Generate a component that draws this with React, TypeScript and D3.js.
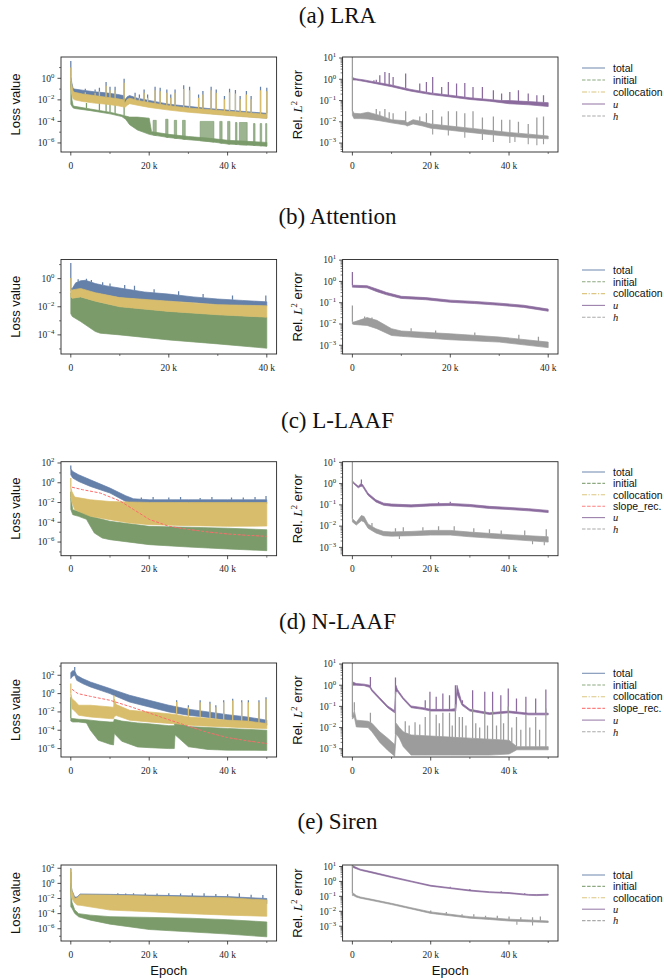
import React from "react";
import * as d3 from "d3";

// Band readings: [epoch (thousands), log10 lower edge, log10 upper edge]
// Spike readings: [epoch (thousands), log10 tip]
// Cluster readings: [epoch start (k), epoch end (k), log10 top]
type B = [number, number, number];
type S = [number, number];
type Cl = [number, number, number];

// ---------- (a) LRA ----------
const lraLossTotal: B[] = [[0, -0.8, 0.2], [0.25, -1.1, -0.4], [0.6, -1.5, -0.95], [1, -1.6, -1.0], [3, -1.75, -1.1], [6, -1.85, -1.25], [9, -1.95, -1.35], [12, -2.1, -1.5], [13.4, -2.2, -1.6], [13.8, -2.5, -2.0], [14.4, -2.3, -1.7], [15, -2.1, -1.6], [17, -2.3, -1.85], [20, -2.55, -2.05], [25, -2.8, -2.4], [30, -3.05, -2.6], [35, -3.25, -2.8], [40, -3.4, -2.95], [45, -3.55, -3.1], [50, -3.7, -3.25]];
const lraLossTotalSpikes: S[] = [[0, 1.6], [3.7, -0.97], [6.2, -1.03], [7.3, -0.87], [9.0, -0.34], [10.0, -0.78], [11.3, -0.78], [13.6, -0.03], [15.6, -1.65], [16.4, -1.34], [17.5, -1.5], [18.7, -1.03], [19.6, -1.5], [21.5, -0.78], [22.8, -0.87], [24.5, -1.03], [25.5, -1.5], [26.6, -1.03], [28.8, -0.65], [30.3, -0.78], [32.6, -1.5], [33.7, -1.18], [35.8, -0.78], [37.1, -1.03], [39.2, -1.65], [40.5, -0.97], [42.0, -1.09], [43.2, -1.65], [44.8, -1.18], [46.0, -1.65], [48.4, -0.78], [50.0, -0.87]];
const lraLossColl: B[] = [[0, -1.0, 0.0], [0.25, -1.5, -0.6], [0.6, -1.9, -1.2], [1, -2.0, -1.3], [3, -2.15, -1.45], [6, -2.3, -1.6], [9, -2.4, -1.75], [12, -2.55, -1.9], [13.4, -2.65, -2.0], [13.8, -2.7, -2.3], [14.4, -2.5, -1.95], [15, -2.35, -1.85], [17, -2.5, -2.05], [20, -2.7, -2.25], [25, -2.95, -2.55], [30, -3.15, -2.75], [35, -3.3, -2.9], [40, -3.45, -3.05], [45, -3.6, -3.2], [50, -3.72, -3.35]];
const lraLossCollSpikes: S[] = [[0, 1.0], [3.7, -1.3], [6.2, -1.35], [7.3, -1.2], [9.0, -0.7], [10.0, -1.1], [11.3, -1.1], [13.6, -0.4], [15.6, -1.9], [16.4, -1.65], [17.5, -1.8], [18.7, -1.35], [19.6, -1.8], [21.5, -1.1], [22.8, -1.2], [24.5, -1.35], [25.5, -1.8], [26.6, -1.35], [28.8, -1.0], [30.3, -1.1], [32.6, -1.8], [33.7, -1.5], [35.8, -1.1], [37.1, -1.35], [39.2, -1.95], [40.5, -1.3], [42.0, -1.4], [43.2, -1.95], [44.8, -1.5], [46.0, -1.95], [48.4, -1.1], [50.0, -1.2]];
const lraLossInit: B[] = [[0, -2.4, -0.25], [0.3, -2.6, -2.0], [0.6, -2.75, -2.55], [1, -2.8, -2.6], [5, -3.0, -2.85], [10, -3.3, -3.15], [13, -3.55, -3.4], [14, -3.8, -3.5], [15, -4.3, -3.6], [17, -4.8, -3.6], [20, -5.2, -3.7], [20.6, -5.25, -4.95], [25, -5.5, -5.2], [30, -5.7, -5.4], [35, -5.85, -5.55], [40, -6.1, -5.75], [45, -6.2, -5.85], [50, -6.3, -5.95]];
const lraLossInitSpikes: S[] = [[4, -2.3], [7.3, -2.2], [9, -1.9], [10, -2.3], [11.3, -2.3], [13.6, -1.8]];
const lraLossInitClusters: Cl[] = [[21, 21.8, -3.9], [24.2, 24.8, -3.8], [26.4, 27.0, -3.9], [28.5, 29.2, -3.9], [33, 36.5, -4.0], [38, 38.6, -4.0], [40, 40.6, -4.0], [42, 42.4, -4.1], [43, 45, -4.1], [46.6, 47, -4.2], [48.3, 48.7, -4.2], [49.7, 50, -4.2]];
const lraErrU: B[] = [[0, 0.0, 0.12], [0.2, -0.03, 0.06], [1, -0.04, 0.02], [3, -0.1, -0.03], [5, -0.17, -0.1], [8, -0.28, -0.2], [10, -0.35, -0.27], [13.5, -0.5, -0.42], [15, -0.56, -0.48], [20, -0.72, -0.64], [25, -0.83, -0.75], [30, -0.95, -0.87], [35, -1.03, -0.95], [38, -1.1, -1.0], [40, -1.15, -1.0], [45, -1.2, -1.05], [50, -1.28, -1.1]];
const lraErrUSpikes: S[] = [[4.5, -0.1], [5.5, -0.05], [6.1, -0.02], [7.0, 0.19], [8.3, 0.34], [9.4, 0.3], [10.4, 0.11], [13.6, 0.27], [17.2, -0.2], [18.9, -0.13], [20.5, 0.11], [22.8, -0.36], [24.5, -0.13], [26.6, -0.2], [28.7, -0.18], [30.8, -0.36], [33.2, -0.36], [36.0, -0.52], [38.1, -0.67], [40.2, -0.6], [42.4, -0.52], [44.9, -0.67], [47.1, -0.75], [48.8, -0.75]];
const lraErrH: B[] = [[0, -1.7, -1.5], [0.15, -1.75, -1.5], [0.4, -1.85, -1.6], [2, -1.85, -1.62], [4, -1.87, -1.55], [7, -1.95, -1.7], [10, -2.05, -1.9], [13.5, -2.15, -1.95], [14, -2.2, -2.05], [15.5, -2.1, -1.9], [18, -2.2, -2.0], [20, -2.3, -2.1], [25, -2.4, -2.2], [30, -2.5, -2.3], [35, -2.6, -2.4], [40, -2.68, -2.5], [45, -2.75, -2.58], [50, -2.8, -2.67]];
const lraErrHSpikes: S[] = [[0, 1.05], [6.1, -1.4], [7.0, -1.5], [8.3, -1.4], [9.4, -1.55], [10.4, -1.6], [13.6, -1.5], [17.2, -1.75], [18.9, -1.6], [20.5, -1.45], [22.8, -1.75], [24.5, -1.5], [26.6, -1.5], [28.7, -1.6], [30.8, -1.5], [33.2, -1.8], [36.0, -1.75], [38.1, -1.9], [40.2, -1.9], [42.4, -2.0], [44.9, -2.1], [47.1, -1.8], [48.8, -1.75]];
const lraErrHDown: S[] = [[20.5, -2.6], [24.5, -2.65], [28.7, -2.75], [33.2, -2.85], [36, -2.95], [40.2, -3.0], [41.5, -2.95], [44.9, -3.05], [47.1, -3.1], [48.8, -3.05]];

// ---------- (b) Attention ----------
const attLossTotal: B[] = [[0, -0.9, -0.7], [0.3, -0.9, -0.7], [1, -0.85, -0.3], [2, -0.85, -0.15], [3, -0.9, -0.12], [5, -1.0, -0.35], [7, -1.15, -0.5], [10, -1.35, -0.67], [15, -1.5, -0.95], [20, -1.6, -1.1], [25, -1.7, -1.3], [30, -1.85, -1.45], [35, -1.9, -1.55], [40, -1.95, -1.65]];
const attLossTotalSpikes: S[] = [[0, 1.12], [1.5, -0.05], [3.2, 0.0], [4.2, -0.1], [6.5, -0.25], [8, -0.35], [11, -0.45], [13, -0.5], [17, -0.75], [22, -0.9], [27, -1.1], [33, -1.2], [39.8, -1.2]];
const attLossColl: B[] = [[0, -1.3, -0.8], [0.3, -1.4, -0.8], [2, -1.3, -0.7], [5, -1.6, -1.0], [10, -2.0, -1.35], [20, -2.33, -1.6], [30, -2.57, -1.85], [40, -2.74, -1.93]];
const attLossCollSpikes: S[] = [[0, 0.05]];
const attLossInit: B[] = [[0, -2.5, -1.0], [0.3, -2.69, -1.4], [2, -3.05, -1.3], [5, -3.76, -1.6], [6, -3.88, -1.7], [10, -4.0, -2.0], [20, -4.36, -2.33], [30, -4.64, -2.57], [40, -4.95, -2.74]];
const attErrU: B[] = [[0, -0.27, -0.18], [0.15, -0.27, -0.18], [3, -0.3, -0.2], [5, -0.48, -0.36], [7, -0.63, -0.52], [10, -0.8, -0.7], [15, -0.86, -0.76], [20, -0.98, -0.88], [25, -1.04, -0.94], [30, -1.12, -1.02], [35, -1.22, -1.12], [40, -1.4, -1.3]];
const attErrUSpikes: S[] = [[0, 0.44]];
const attErrH: B[] = [[0, -2.0, -1.9], [0.3, -2.02, -1.91], [3, -2.07, -1.7], [5, -2.22, -1.83], [8, -2.54, -2.22], [10, -2.58, -2.33], [20, -2.74, -2.46], [30, -2.85, -2.61], [40, -3.11, -2.85]];
const attErrHSpikes: S[] = [[0, -1.13], [2.5, -1.65], [4, -1.7], [12, -2.2], [17, -2.3], [25, -2.4], [34, -2.5], [38, -2.6]];

// ---------- (c) L-LAAF ----------
const llaafLossTotal: B[] = [[0, 0.8, 1.4], [0.5, 0.47, 1.14], [2, 0.13, 0.81], [5, -0.37, 0.3], [10, -1.04, -0.54], [14, -1.89, -1.31], [16, -2.05, -1.62], [20, -2.1, -1.72], [30, -2.1, -1.72], [40, -2.1, -1.72], [50, -2.1, -1.72]];
const llaafLossTotalSpikes: S[] = [[0, 1.75], [18, -1.5], [21, -1.45], [25, -1.5], [28, -1.45], [33, -1.55], [36, -1.45], [41, -1.5], [44, -1.5], [47, -1.45], [49.8, -1.35]];
const llaafLossColl: B[] = [[0, -1.5, -0.5], [0.3, -2.0, -0.9], [1, -2.73, -1.45], [5, -3.4, -1.72], [10, -3.74, -1.9], [15, -4.07, -1.95], [20, -4.24, -1.99], [30, -4.34, -2.0], [40, -4.41, -2.0], [50, -4.38, -2.0]];
const llaafLossCollSpikes: S[] = [[0, 0.47]];
const llaafLossSlope: S[] = [[0.3, -0.45], [3, -0.7], [7.5, -1.04], [12.6, -1.85], [16, -2.7], [20, -3.7], [25, -4.4], [30, -4.72], [35, -4.98], [40, -5.18], [45, -5.32], [50, -5.42]];
const llaafLossInit: B[] = [[0, -2.7, -1.5], [0.5, -3.23, -2.73], [2, -3.4, -2.9], [4, -3.7, -3.1], [5, -4.4, -3.4], [6, -5.08, -3.5], [8, -5.59, -3.7], [10, -5.76, -3.9], [20, -6.26, -4.41], [30, -6.5, -4.5], [40, -6.7, -4.6], [50, -6.87, -4.75]];
const llaafLossInitSpikes: S[] = [[0, -0.9]];
const llaafErrU: B[] = [[0, 0.05, 0.14], [0.3, 0.0, 0.06], [1.5, -0.2, -0.12], [2.2, -0.12, 0.0], [2.6, -0.14, -0.04], [4, -0.55, -0.45], [6, -0.86, -0.76], [8, -1.02, -0.92], [10, -1.06, -0.96], [15, -1.1, -1.0], [20, -1.05, -0.95], [25, -1.03, -0.93], [30, -1.08, -0.98], [35, -1.17, -1.07], [40, -1.22, -1.12], [45, -1.28, -1.18], [50, -1.36, -1.26]];
const llaafErrUSpikes: S[] = [[2.3, 0.19], [22, -0.88], [25, -0.85]];
const llaafErrH: B[] = [[0, -1.8, -1.65], [1, -1.95, -1.82], [2.3, -1.75, -1.5], [3, -1.8, -1.55], [4, -2.1, -1.9], [6, -2.32, -2.12], [8, -2.45, -2.25], [10, -2.47, -2.27], [15, -2.45, -2.25], [20, -2.42, -2.2], [25, -2.42, -2.2], [30, -2.5, -2.28], [40, -2.62, -2.4], [50, -2.75, -2.5]];
const llaafErrHSpikes: S[] = [[0, 1.03], [5, -1.85], [11, -2.1], [13, -2.05], [18, -2.05], [22, -2.0], [26, -2.0], [31, -2.1], [35, -2.15], [38, -2.2], [44, -2.2], [49.5, -2.15]];
const llaafErrHDown: S[] = [[12, -2.6], [46, -2.85], [49, -2.9]];

// ---------- (d) N-LAAF ----------
const nlaafLossTotal: B[] = [[0, 1.64, 2.3], [0.5, 1.9, 2.5], [1, 2.0, 2.5], [1.5, 1.45, 2.0], [3, 1.09, 1.64], [5, 0.73, 1.27], [10, 0.0, 0.55], [11, -0.2, 0.4], [15, -0.92, -0.18], [20, -1.46, -0.73], [25, -2.0, -1.27], [30, -2.36, -1.7], [35, -2.6, -2.0], [40, -2.9, -2.3], [45, -3.1, -2.55], [50, -3.45, -2.9]];
const nlaafLossTotalSpikes: S[] = [[1, 2.9], [27, -0.73], [30, -1.27], [33, -0.73], [35.5, -0.9], [37, -1.27], [39, -0.73], [41.3, -0.55], [43.6, -0.73], [45.3, -0.73], [48, -0.73], [49.8, -0.4]];
const nlaafLossColl: B[] = [[0, -0.5, 0.0], [0.3, -1.64, -0.55], [1, -1.9, -0.8], [2, -2.36, -1.27], [5, -2.55, -1.27], [10, -2.73, -1.45], [10.9, -2.75, -1.5], [11.1, -2.5, -0.6], [11.6, -2.4, -1.2], [15, -2.9, -1.82], [20, -3.1, -2.0], [25, -3.25, -2.2], [27, -3.3, -2.3], [30, -3.45, -2.55], [35, -3.55, -2.7], [40, -3.64, -2.9], [45, -3.75, -3.0], [50, -3.82, -3.27]];
const nlaafLossCollSpikes: S[] = [[0, 1.09], [11, -0.18], [27, -0.9], [30, -1.5], [33, -0.95], [35.5, -1.1], [37, -1.5], [39, -0.95], [41.3, -0.75], [43.6, -0.95], [45.3, -0.95], [48, -0.95], [49.8, -0.6]];
const nlaafLossSlope: S[] = [[0.3, 0.47], [1.8, 0.0], [5, -0.3], [10, -0.73], [15, -1.4], [20, -2.11], [25, -2.85], [30, -3.56], [35, -4.25], [40, -4.8], [45, -5.15], [50, -5.45]];
const nlaafLossInit: B[] = [[0, -3.0, -2.7], [0.5, -3.1, -2.73], [2, -3.1, -2.8], [4, -3.2, -2.85], [5, -4.0, -2.9], [7, -5.09, -3.0], [10, -5.53, -3.1], [10.9, -5.6, -3.1], [11.1, -4.36, -2.8], [13, -5.2, -3.0], [17, -5.82, -3.2], [20, -5.9, -3.3], [25, -6.0, -3.5], [26.4, -6.0, -3.5], [26.6, -4.5, -3.0], [30, -5.8, -3.6], [35, -6.1, -3.7], [40, -6.18, -3.8], [50, -6.2, -4.0]];
const nlaafLossInitSpikes: S[] = [[0, -0.4]];
const nlaafErrU: B[] = [[0, 0.0, 0.16], [1, 0.0, 0.08], [3, -0.02, 0.05], [4.4, -0.1, 0.0], [5, -0.28, -0.2], [7, -0.67, -0.59], [9, -1.06, -0.98], [10.8, -1.3, -1.2], [11.1, -0.3, 0.0], [11.5, -0.3, -0.2], [13, -0.67, -0.59], [15, -1.06, -0.98], [18, -1.14, -1.06], [20, -1.22, -1.14], [25, -1.22, -1.14], [26.4, -1.22, -1.1], [26.7, -0.4, 0.0], [28, -0.95, -0.85], [30, -1.22, -1.14], [35, -1.38, -1.3], [40, -1.3, -1.22], [45, -1.4, -1.32], [50, -1.4, -1.32]];
const nlaafErrUSpikes: S[] = [[4.6, 0.39], [11, 0.36], [18.6, -0.71], [19.8, -0.31], [21.4, -0.55], [23.1, -0.39], [24.8, -0.47], [26.3, 0.0], [28.1, -0.71], [30.7, -0.24], [33.8, -0.31], [35.8, -0.31], [37.9, -0.47], [39.8, -0.16], [41.9, -0.63], [44.3, -0.55], [46.8, -0.63], [49.4, -0.2]];
const nlaafErrH: B[] = [[0, -1.6, -1.5], [0.5, -1.5, -1.2], [1, -1.97, -1.65], [4, -2.0, -1.7], [5, -2.2, -1.8], [7, -2.7, -2.2], [9, -3.07, -2.5], [10.8, -3.35, -2.8], [11.2, -2.3, -1.8], [12, -2.5, -2.0], [13, -2.9, -2.2], [15, -3.3, -2.35], [20, -3.3, -2.4], [25, -3.3, -2.45], [30, -3.3, -2.5], [35, -3.3, -2.55], [40, -3.25, -2.6], [42, -3.05, -2.9], [50, -3.05, -2.9]];
const nlaafErrHSpikes: S[] = [[0, 1.05], [0.5, -0.8], [4.6, -1.3], [11, -0.3], [13.5, -1.7], [14.5, -1.9], [16, -1.75], [17.2, -1.85], [18.6, -1.5], [19.8, -1.2], [21.4, -1.4], [22.2, -1.8], [23.1, -1.3], [24.8, -1.3], [25.5, -1.9], [26.3, -0.9], [27.3, -1.5], [28.1, -1.5], [29, -1.9], [30.7, -1.1], [31.5, -1.8], [32.5, -2.0], [33.8, -1.2], [34.5, -1.9], [35.8, -1.2], [36.8, -1.9], [37.9, -1.3], [38.6, -1.8], [39.8, -1.0], [40.7, -2.0], [41.9, -1.5], [43, -2.1], [44.3, -1.4], [45.3, -2.0], [46.8, -1.5], [47.8, -2.1], [49.4, -1.1]];

// ---------- (e) Siren ----------
const sirenLossTotal: B[] = [[0, -1.0, 0.0], [0.3, -1.6, -0.9], [1, -2.1, -1.8], [1.6, -2.3, -1.8], [2.4, -2.2, -1.4], [10, -2.2, -1.45], [20, -2.3, -1.55], [30, -2.4, -1.65], [40, -2.5, -1.75], [50, -2.7, -2.0]];
const sirenLossTotalSpikes: S[] = [[0, 2.0], [12, -1.3], [14, -1.35], [16, -1.3], [19, -1.3], [22, -1.35], [25, -1.3], [28, -1.35], [31, -1.3], [34, -1.3], [37, -1.4], [40, -1.45], [43, -1.3], [46, -1.5], [49, -1.55]];
const sirenLossColl: B[] = [[0, -1.5, 0.0], [0.3, -2.0, -1.0], [1, -2.6, -2.0], [1.6, -2.87, -1.9], [2.4, -2.9, -1.5], [10, -3.53, -1.55], [20, -3.75, -1.68], [30, -4.0, -1.8], [40, -4.2, -1.9], [50, -4.35, -2.2]];
const sirenLossCollSpikes: S[] = [[0, 1.9]];
const sirenLossInit: B[] = [[0, -3.1, -1.0], [0.3, -3.3, -2.5], [1, -3.97, -3.5], [2, -4.42, -4.0], [5, -4.86, -4.2], [10, -5.39, -4.4], [20, -6.1, -4.5], [30, -6.4, -4.6], [40, -6.7, -4.8], [50, -7.07, -5.1]];
const sirenLossInitSpikes: S[] = [[0, 1.5]];
const sirenErrU: B[] = [[0, 0.95, 1.06], [2, 0.75, 0.82], [5, 0.57, 0.64], [10, 0.26, 0.33], [15, -0.03, 0.03], [20, -0.32, -0.26], [25, -0.48, -0.42], [30, -0.64, -0.58], [35, -0.75, -0.69], [40, -0.81, -0.75], [45, -0.93, -0.87], [47, -0.95, -0.88], [50, -0.92, -0.86]];
const sirenErrUSpikes: S[] = [[19, -0.2], [25, -0.35], [30, -0.5], [38, -0.65], [44, -0.8]];
const sirenErrH: B[] = [[0, -0.95, -0.8], [0.3, -0.95, -0.8], [1, -1.05, -0.95], [2, -1.12, -1.04], [5, -1.28, -1.2], [10, -1.55, -1.47], [15, -1.84, -1.76], [20, -2.14, -2.04], [25, -2.3, -2.2], [30, -2.46, -2.36], [35, -2.55, -2.43], [40, -2.65, -2.53], [45, -2.7, -2.58], [50, -2.75, -2.65]];
const sirenErrHSpikes: S[] = [[0, 1.1], [20, -1.95], [24, -2.05], [28, -2.2], [31, -2.2], [34, -2.3], [37, -2.3], [40, -2.35], [43, -2.4], [46, -2.4], [48, -2.35]];
const sirenErrHDown: S[] = [[42, -2.9], [46, -2.95]];

// ---------- ticks and labels ----------
const lossTickExps = [2, 0, -2, -4, -6];
const lossMinorExps = [3, 1, -1, -3, -5, -7];
const errTickExps = [1, 0, -1, -2, -3];
const xTickValues = [0, 20000, 40000];
const xTickLabels = ["0", "20 k", "40 k"];
const xMinorValues = [10000, 30000, 50000];
const titles = ["(a) LRA", "(b) Attention", "(c) L-LAAF", "(d) N-LAAF", "(e) Siren"];
const legendBase = ["total", "initial", "collocation", "u", "h"];
const legendWithSlope = ["total", "initial", "collocation", "slope_rec.", "u", "h"];

const COLORS: Record<string, string> = {
  total: "#6580a9",
  initial: "#7b9b6b",
  collocation: "#d8bd6c",
  "slope_rec.": "#ff6a6a",
  u: "#8b6b9e",
  h: "#9c9c9c",
};
const DASH: Record<string, string> = {
  total: "",
  initial: "3.5,1.6",
  collocation: "5,1.6,1.2,1.6",
  "slope_rec.": "3.5,1.6",
  u: "",
  h: "3.5,1.6",
};

const SERIF = "'Liberation Serif', 'DejaVu Serif', serif";
const SANS = "'Liberation Sans', Arial, 'DejaVu Sans', sans-serif";

interface Series {
  key: string;
  band: B[];
  up?: S[];
  down?: S[];
  clusters?: Cl[];
}

interface Row {
  title: string;
  titleY: number;
  top: number;
  bottom: number;
  xMax: number;
  lossDom: [number, number];
  errDom: [number, number];
  legendTop: number;
  legendStep: number;
  legend: string[];
  loss: Series[];
  slope?: S[];
  err: Series[];
}

const rows: Row[] = [
  {
    title: titles[0], titleY: 23, top: 57, bottom: 152, xMax: 50,
    lossDom: [-6.84, 1.98], errDom: [-3.42, 1.047], legendTop: 68, legendStep: 12, legend: legendBase,
    loss: [
      { key: "total", band: lraLossTotal, up: lraLossTotalSpikes },
      { key: "initial", band: lraLossInit, up: lraLossInitSpikes, clusters: lraLossInitClusters },
      { key: "collocation", band: lraLossColl, up: lraLossCollSpikes },
    ],
    err: [
      { key: "u", band: lraErrU, up: lraErrUSpikes },
      { key: "h", band: lraErrH, up: lraErrHSpikes, down: lraErrHDown },
    ],
  },
  {
    title: titles[1], titleY: 224, top: 259.5, bottom: 354, xMax: 40,
    lossDom: [-5.36, 1.36], errDom: [-3.41, 1.03], legendTop: 270, legendStep: 11.8, legend: legendBase,
    loss: [
      { key: "total", band: attLossTotal, up: attLossTotalSpikes },
      { key: "initial", band: attLossInit },
      { key: "collocation", band: attLossColl, up: attLossCollSpikes },
    ],
    err: [
      { key: "u", band: attErrU, up: attErrUSpikes },
      { key: "h", band: attErrH, up: attErrHSpikes },
    ],
  },
  {
    title: titles[2], titleY: 427.5, top: 461.7, bottom: 555.7, xMax: 50,
    lossDom: [-7.38, 2.13], errDom: [-3.39, 1.03], legendTop: 472, legendStep: 11.4, legend: legendWithSlope,
    loss: [
      { key: "total", band: llaafLossTotal, up: llaafLossTotalSpikes },
      { key: "initial", band: llaafLossInit, up: llaafLossInitSpikes },
      { key: "collocation", band: llaafLossColl, up: llaafLossCollSpikes },
    ],
    slope: llaafLossSlope,
    err: [
      { key: "u", band: llaafErrU, up: llaafErrUSpikes },
      { key: "h", band: llaafErrH, up: llaafErrHSpikes, down: llaafErrHDown },
    ],
  },
  {
    title: titles[3], titleY: 629, top: 663, bottom: 757, xMax: 50,
    lossDom: [-6.92, 3.34], errDom: [-3.39, 1.05], legendTop: 673.3, legendStep: 11.7, legend: legendWithSlope,
    loss: [
      { key: "total", band: nlaafLossTotal, up: nlaafLossTotalSpikes },
      { key: "initial", band: nlaafLossInit, up: nlaafLossInitSpikes },
      { key: "collocation", band: nlaafLossColl, up: nlaafLossCollSpikes },
    ],
    slope: nlaafLossSlope,
    err: [
      { key: "u", band: nlaafErrU, up: nlaafErrUSpikes },
      { key: "h", band: nlaafErrH, up: nlaafErrHSpikes },
    ],
  },
  {
    title: titles[4], titleY: 829, top: 865, bottom: 941, xMax: 50,
    lossDom: [-7.62, 2.43], errDom: [-3.99, 1.1], legendTop: 875, legendStep: 11.4, legend: legendBase,
    loss: [
      { key: "total", band: sirenLossTotal, up: sirenLossTotalSpikes },
      { key: "initial", band: sirenLossInit, up: sirenLossInitSpikes },
      { key: "collocation", band: sirenLossColl, up: sirenLossCollSpikes },
    ],
    err: [
      { key: "u", band: sirenErrU, up: sirenErrUSpikes },
      { key: "h", band: sirenErrH, up: sirenErrHSpikes, down: sirenErrHDown },
    ],
  },
];

const LX0 = 61, LX1 = 276.6, RX0 = 342.6, RX1 = 558;

function expLabel(e: number) {
  return e < 0 ? "\u2212" + String(-e) : String(e);
}

function SeriesView({ s, x, y }: { s: Series; x: any; y: any }) {
  const color = COLORS[s.key];
  const ks = s.band.map((d) => d[0]);
  const hiAt = d3.scaleLinear().domain(ks).range(s.band.map((d) => d[2])).clamp(true);
  const loAt = d3.scaleLinear().domain(ks).range(s.band.map((d) => d[1])).clamp(true);
  const area = d3
    .area<B>()
    .x((d) => x(d[0] * 1000))
    .y0((d) => y(Math.pow(10, d[1])))
    .y1((d) => y(Math.pow(10, d[2])));
  const cluArea = d3
    .area<S>()
    .x((d) => x(d[0] * 1000))
    .y0((d) => y(Math.pow(10, loAt(d[0]))))
    .y1((d) => y(Math.pow(10, d[1])));
  return (
    <g>
      <path d={area(s.band) || ""} fill={color} stroke={color} strokeWidth={0.7} strokeLinejoin="round" />
      {(s.clusters || []).map((c, i) => (
        <path key={"c" + i} d={cluArea([[c[0], c[2]], [c[1], c[2]]]) || ""} fill={color} fillOpacity={0.75} stroke={color} strokeWidth={0.6} />
      ))}
      {(s.up || []).map((p, i) => (
        <line key={"u" + i} x1={x(p[0] * 1000)} x2={x(p[0] * 1000)} y1={y(Math.pow(10, hiAt(p[0])))} y2={y(Math.pow(10, p[1]))} stroke={color} strokeWidth={1.25} />
      ))}
      {(s.down || []).map((p, i) => (
        <line key={"d" + i} x1={x(p[0] * 1000)} x2={x(p[0] * 1000)} y1={y(Math.pow(10, loAt(p[0])))} y2={y(Math.pow(10, p[1]))} stroke={color} strokeWidth={1.1} />
      ))}
    </g>
  );
}

function Panel({ id, x0, x1, top, bottom, dom, xMax, series, slope, kind, showEpoch }: any) {
  const x = d3.scaleLinear().domain([-xMax * 50, xMax * 1050]).range([x0, x1]);
  const y = d3.scaleLog().domain([Math.pow(10, dom[0]), Math.pow(10, dom[1])]).range([bottom, top]);
  const inDom = (e: number) => e >= dom[0] - 1e-9 && e <= dom[1] + 1e-9;
  const majors: number[] = (kind === "loss" ? lossTickExps : errTickExps).filter(inDom);
  let minors: number[] = [];
  if (kind === "loss") {
    minors = lossMinorExps.filter(inDom).map((e) => Math.pow(10, e));
  } else {
    minors = y.ticks().filter((v: number) => {
      const l = Math.log10(v);
      return Math.abs(l - Math.round(l)) > 1e-6;
    });
  }
  const line = d3
    .line<S>()
    .x((d) => x(d[0] * 1000))
    .y((d) => y(Math.pow(10, d[1])));
  const cy = (top + bottom) / 2;
  const cx = (x0 + x1) / 2;
  const xt = xTickValues.filter((v) => v <= xMax * 1000);
  const xm = xMinorValues.filter((v) => v <= xMax * 1000);
  return (
    <g>
      <defs>
        <clipPath id={id}>
          <rect x={x0} y={top} width={x1 - x0} height={bottom - top} />
        </clipPath>
      </defs>
      <g clipPath={`url(#${id})`}>
        {series.map((s: Series, i: number) => (
          <SeriesView key={i} s={s} x={x} y={y} />
        ))}
        {slope && (
          <path d={line(slope) || ""} fill="none" stroke={COLORS["slope_rec."]} strokeWidth={1} strokeDasharray="3,1.6" />
        )}
      </g>
      <rect x={x0} y={top} width={x1 - x0} height={bottom - top} fill="none" stroke="#262626" strokeWidth={0.9} />
      {majors.map((e) => {
        const py = y(Math.pow(10, e));
        return (
          <g key={"ym" + e}>
            <line x1={x0 - 3.5} x2={x0} y1={py} y2={py} stroke="#262626" strokeWidth={0.8} />
            <text x={x0 - 6.5} y={py + 3.3} textAnchor="end" fontFamily={SERIF} fontSize={9.5} fill="#262626">
              10
              <tspan dy={-4} fontSize={6.8}>{expLabel(e)}</tspan>
            </text>
          </g>
        );
      })}
      {minors.map((v, i) => (
        <line key={"yn" + i} x1={x0 - 2} x2={x0} y1={y(v)} y2={y(v)} stroke="#262626" strokeWidth={0.6} />
      ))}
      {xt.map((v, i) => (
        <g key={"xt" + i}>
          <line x1={x(v)} x2={x(v)} y1={bottom} y2={bottom + 3.5} stroke="#262626" strokeWidth={0.8} />
          <text x={x(v)} y={bottom + 16.5} textAnchor="middle" fontFamily={SERIF} fontSize={9.5} fill="#262626">
            {xTickLabels[xTickValues.indexOf(v)]}
          </text>
        </g>
      ))}
      {xm.map((v, i) => (
        <line key={"xm" + i} x1={x(v)} x2={x(v)} y1={bottom} y2={bottom + 2} stroke="#262626" strokeWidth={0.6} />
      ))}
      {kind === "loss" ? (
        <text transform={`translate(${x0 - 41},${cy}) rotate(-90)`} textAnchor="middle" fontFamily={SANS} fontSize={13} fill="#111">
          Loss value
        </text>
      ) : (
        <text transform={`translate(${x0 - 40.5},${cy}) rotate(-90)`} textAnchor="middle" fontFamily={SANS} fontSize={13} fill="#111">
          Rel.{" "}
          <tspan fontFamily={SERIF} fontStyle="italic">L</tspan>
          <tspan dy={-5} fontFamily={SERIF} fontSize={8.5}>2</tspan>
          <tspan dy={5}> error</tspan>
        </text>
      )}
      {showEpoch && (
        <text x={cx} y={975} textAnchor="middle" fontFamily={SANS} fontSize={13} fill="#111">
          Epoch
        </text>
      )}
    </g>
  );
}

function Legend({ items, top, step }: { items: string[]; top: number; step: number }) {
  return (
    <g>
      {items.map((k, i) => {
        const yy = top + i * step;
        const math = k === "u" || k === "h";
        return (
          <g key={k}>
            <line x1={582} x2={605} y1={yy} y2={yy} stroke={COLORS[k]} strokeWidth={1.1} strokeDasharray={DASH[k]} opacity={0.85} />
            <text x={613} y={yy + 3.7} fontFamily={math ? SERIF : SANS} fontStyle={math ? "italic" : "normal"} fontSize={10.5} fill="#111">
              {k}
            </text>
          </g>
        );
      })}
    </g>
  );
}

export default function App() {
  return (
    <svg width={664} height={979} style={{ position: "absolute", left: 0, top: 0, background: "#fff" }}>
      <rect width={664} height={979} fill="#fff" />
      {rows.map((r, i) => (
        <g key={i}>
          <text x={337.5} y={r.titleY} textAnchor="middle" fontFamily={SERIF} fontSize={23} fill="#111">
            {r.title}
          </text>
          <Panel id={"L" + i} x0={LX0} x1={LX1} top={r.top} bottom={r.bottom} dom={r.lossDom} xMax={r.xMax} series={r.loss} slope={r.slope} kind="loss" showEpoch={i === 4} />
          <Panel id={"R" + i} x0={RX0} x1={RX1} top={r.top} bottom={r.bottom} dom={r.errDom} xMax={r.xMax} series={r.err} kind="err" showEpoch={i === 4} />
          <Legend items={r.legend} top={r.legendTop} step={r.legendStep} />
        </g>
      ))}
    </svg>
  );
}
